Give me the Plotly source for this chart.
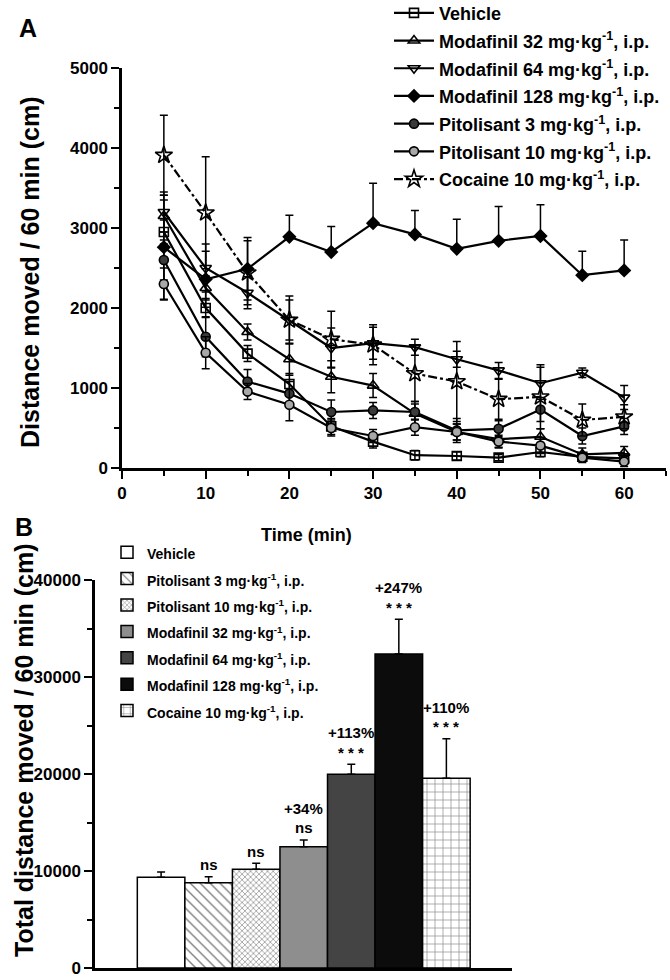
import plotly.graph_objects as go

# ---------------- Panel A data ----------------
times = [5, 10, 15, 20, 25, 30, 35, 40, 45, 50, 55, 60]

vehicle = [2950, 2000, 1430, 1050, 520, 330, 160, 150, 130, 200, 140, 120]
vehicle_err = [150, 120, 100, 130, 100, 80, 60, 50, 40, 60, 50, 40]

mod32 = [3150, 2250, 1700, 1360, 1140, 1030, 680, 450, 360, 390, 170, 190]
mod32_err = [200, 150, 100, 200, 200, 150, 150, 100, 100, 100, 80, 80]

mod64 = [3200, 2500, 2190, 1850, 1500, 1560, 1510, 1360, 1220, 1060, 1190, 880]
mod64_err = [250, 300, 200, 250, 250, 200, 100, 100, 100, 200, 60, 150]

mod128 = [2760, 2360, 2490, 2890, 2700, 3060, 2920, 2740, 2840, 2900, 2410, 2470]
mod128_err = [650, 350, 390, 270, 320, 500, 300, 370, 430, 390, 300, 380]

pit3 = [2600, 1640, 1080, 930, 700, 720, 700, 470, 490, 730, 400, 520]
pit3_err = [250, 250, 150, 150, 150, 100, 100, 150, 100, 150, 100, 100]

pit10 = [2300, 1440, 955, 790, 500, 400, 510, 450, 330, 280, 130, 80]
pit10_err = [200, 200, 100, 200, 100, 80, 100, 100, 80, 100, 60, 60]

cocaine = [3910, 3190, 2440, 1850, 1610, 1540, 1180, 1080, 860, 890, 600, 640]
cocaine_err = [500, 700, 400, 300, 350, 250, 350, 500, 250, 400, 200, 150]

line_names = [
    "Vehicle",
    "Modafinil 32 mg·kg<sup>-1</sup>, i.p.",
    "Modafinil 64 mg·kg<sup>-1</sup>, i.p.",
    "Modafinil 128 mg·kg<sup>-1</sup>, i.p.",
    "Pitolisant 3 mg·kg<sup>-1</sup>, i.p.",
    "Pitolisant 10 mg·kg<sup>-1</sup>, i.p.",
    "Cocaine 10 mg·kg<sup>-1</sup>, i.p.",
]

# ---------------- Panel B data ----------------
bar_names = [
    "Vehicle",
    "Pitolisant 3 mg·kg<sup>-1</sup>, i.p.",
    "Pitolisant 10 mg·kg<sup>-1</sup>, i.p.",
    "Modafinil 32 mg·kg<sup>-1</sup>, i.p.",
    "Modafinil 64 mg·kg<sup>-1</sup>, i.p.",
    "Modafinil 128 mg·kg<sup>-1</sup>, i.p.",
    "Cocaine 10 mg·kg<sup>-1</sup>, i.p.",
]
bar_values = [9350, 8800, 10180, 12500, 19970, 32370, 19550]
bar_err = [550, 600, 620, 700, 1030, 3580, 4090]
sig_labels = ["", "ns", "ns", "ns", "* * *", "* * *", "* * *"]
pct_labels = ["", "", "", "+34%", "+113%", "+247%", "+110%"]

FONT = "Liberation Sans, Arial, sans-serif"
W, H = 670, 980

def px_x(p):
    return p / W

def px_y(p):
    return 1 - p / H

fig = go.Figure()

line_series = [
    (vehicle, vehicle_err, dict(symbol="square-open", size=9, color="black", line=dict(width=1.6)), "solid", None),
    (mod32, mod32_err, dict(symbol="triangle-up-open", size=10, color="black", line=dict(width=1.6)), "solid", None),
    (mod64, mod64_err, dict(symbol="triangle-down-open", size=10, color="black", line=dict(width=1.6)), "solid", None),
    (mod128, mod128_err, dict(symbol="diamond", size=11, color="black"), "solid", "up"),
    (pit3, pit3_err, dict(symbol="circle", size=9, color="#3a3a3a", line=dict(color="black", width=1.6)), "solid", None),
    (pit10, pit10_err, dict(symbol="circle", size=9, color="#a8a8a8", line=dict(color="black", width=1.6)), "solid", None),
    (cocaine, cocaine_err, dict(symbol="star-open", size=13, color="black", line=dict(width=1.6)), "dashdot", None),
]

for name, (vals, errs, mk, dash, mode) in zip(line_names, line_series):
    if mode == "up":
        err = dict(type="data", array=errs, arrayminus=[e if t <= 15 else 0 for t, e in zip(times, errs)],
                   symmetric=False, color="black", thickness=1.5, width=4)
    else:
        err = dict(type="data", array=errs, color="black", thickness=1.5, width=4)
    fig.add_trace(go.Scatter(
        x=times, y=vals, name="<span style='font-size:18px'>" + name + "</span>",
        mode="lines+markers",
        line=dict(color="black", width=2.2, dash=dash),
        marker=mk, error_y=err, xaxis="x", yaxis="y", legend="legend",
    ))

bar_styles = [
    dict(color="white"),
    dict(color="white", pattern=dict(shape="\\", fgcolor="black", bgcolor="white", size=7, solidity=0.2)),
    dict(color="white", pattern=dict(shape="x", fgcolor="black", bgcolor="white", size=4, solidity=0.3)),
    dict(color="#8e8e8e"),
    dict(color="#444444"),
    dict(color="#0c0c0c"),
    dict(color="white", pattern=dict(shape="+", fgcolor="black", bgcolor="white", size=8, solidity=0.15)),
]

for i, (name, v, e, st) in enumerate(zip(bar_names, bar_values, bar_err, bar_styles)):
    mk = dict(st)
    mk["line"] = dict(color="black", width=1.5)
    fig.add_trace(go.Bar(
        x=[i], y=[v], width=[1.0],
        name="<span style='font-size:14px'>" + name + "</span>", marker=mk,
        error_y=dict(type="data", array=[e], arrayminus=[0], symmetric=False,
                     color="black", thickness=1.5, width=4),
        xaxis="x2", yaxis="y2", legend="legend2",
    ))

annotations = []
for i, (v, e, s, p) in enumerate(zip(bar_values, bar_err, sig_labels, pct_labels)):
    if s:
        annotations.append(dict(x=i, y=v + e + 1250, xref="x2", yref="y2", text=s, showarrow=False,
                                font=dict(family=FONT, size=15, color="black", weight="bold"),
                                xanchor="center", yanchor="middle"))
    if p:
        annotations.append(dict(x=i, y=v + e + 3250, xref="x2", yref="y2", text=p, showarrow=False,
                                font=dict(family=FONT, size=15, color="black", weight="bold"),
                                xanchor="center", yanchor="middle"))

# panel letters and axis titles
annotations += [
    dict(x=px_x(28), y=px_y(28), xref="paper", yref="paper", text="A", showarrow=False,
         xanchor="center", yanchor="middle",
         font=dict(family=FONT, size=25, color="black", weight="bold")),
    dict(x=px_x(24), y=px_y(527), xref="paper", yref="paper", text="B", showarrow=False,
         xanchor="center", yanchor="middle",
         font=dict(family=FONT, size=25, color="black", weight="bold")),
    dict(x=px_x(30), y=px_y(272), xref="paper", yref="paper", text="Distance moved / 60 min (cm)",
         showarrow=False, textangle=-90, xanchor="center", yanchor="middle",
         font=dict(family=FONT, size=25, color="black", weight="bold")),
    dict(x=px_x(24), y=px_y(750), xref="paper", yref="paper", text="Total distance moved / 60 min (cm)",
         showarrow=False, textangle=-90, xanchor="center", yanchor="middle",
         font=dict(family=FONT, size=25, color="black", weight="bold")),
    dict(x=px_x(306), y=px_y(535), xref="paper", yref="paper", text="Time (min)", showarrow=False,
         xanchor="center", yanchor="middle",
         font=dict(family=FONT, size=18, color="black", weight="bold")),
]

axis_common = dict(showgrid=False, zeroline=False, showline=True, linecolor="black", linewidth=2.5,
                   ticks="outside", tickcolor="black", tickwidth=2, ticklen=8,
                   tickfont=dict(family=FONT, size=17, color="black", weight="bold"),
                   automargin=False)

fig.update_layout(
    width=W, height=H,
    margin=dict(l=0, r=0, t=0, b=0, autoexpand=False),
    paper_bgcolor="white", plot_bgcolor="white",
    barmode="overlay",
    xaxis=dict(axis_common, domain=[px_x(122), px_x(666)], range=[0, 65], tickvals=[0, 10, 20, 30, 40, 50, 60],
               minor=dict(ticks="outside", ticklen=5, tickcolor="black", tickwidth=2, dtick=5, tick0=0),
               anchor="y"),
    yaxis=dict(axis_common, domain=[px_y(468), px_y(68)], range=[0, 5000], tickvals=[0, 1000, 2000, 3000, 4000, 5000],
               minor=dict(ticks="outside", ticklen=5, tickcolor="black", tickwidth=2, dtick=500, tick0=0),
               anchor="x"),
    xaxis2=dict(axis_common, domain=[px_x(95), px_x(512)], range=[-1.39, 7.38], ticks="",
                showticklabels=False, anchor="y2"),
    yaxis2=dict(axis_common, domain=[px_y(968), px_y(580)], range=[0, 40000],
                tickvals=[0, 10000, 20000, 30000, 40000], tickformat="d",
                minor=dict(ticks="outside", ticklen=5, tickcolor="black", tickwidth=2, dtick=5000, tick0=0),
                anchor="x2"),
    legend=dict(xref="paper", yref="paper", x=px_x(389), y=px_y(-6), xanchor="left", yanchor="top",
                bgcolor="rgba(0,0,0,0)", font=dict(family=FONT, size=19, color="black", weight="bold"),
                tracegroupgap=0, itemwidth=40),
    legend2=dict(xref="paper", yref="paper", x=px_x(107), y=px_y(534), xanchor="left", yanchor="top",
                 bgcolor="rgba(0,0,0,0)", font=dict(family=FONT, size=18, color="black", weight="bold"),
                 tracegroupgap=0),
    annotations=annotations,
    showlegend=True,
)

fig.write_html("out.html", post_script="document.body.style.margin='0px';",
               config={"displayModeBar": False})
